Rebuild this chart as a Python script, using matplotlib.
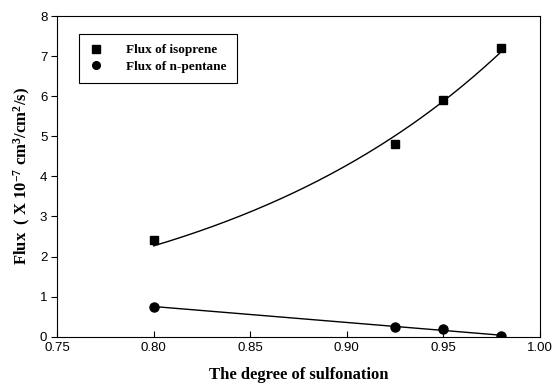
import numpy as np
import matplotlib
matplotlib.use("Agg")
import matplotlib.pyplot as plt

plt.rcParams['mathtext.fontset'] = 'custom'
plt.rcParams['mathtext.rm'] = 'Liberation Serif:bold'
plt.rcParams['mathtext.bf'] = 'Liberation Serif:bold'
plt.rcParams['mathtext.it'] = 'Liberation Serif:bold'

sulfonation = [0.80, 0.925, 0.95, 0.98]
flux_isoprene = [2.4, 4.8, 5.9, 7.2]
flux_pentane = [0.75, 0.25, 0.18, 0.02]
xticks = [0.75, 0.80, 0.85, 0.90, 0.95, 1.00]
yticks = [0, 1, 2, 3, 4, 5, 6, 7, 8]

fig = plt.figure(figsize=(5.54, 3.85), dpi=100)
ax = fig.add_axes([0.1029, 0.1255, 0.8718, 0.8329])

x = np.array(sulfonation)
yi = np.array(flux_isoprene)
xs = np.linspace(x.min(), x.max(), 200)
# nonlinear least-squares exponential fit y = a*exp(b*x) for isoprene
best = None
for b in np.linspace(1, 15, 5601):
    e = np.exp(b * x)
    a = np.sum(yi * e) / np.sum(e * e)
    r = np.sum((yi - a * e) ** 2)
    if best is None or r < best[0]:
        best = (r, a, b)
_, a_fit, b_fit = best
ax.plot(xs, a_fit * np.exp(b_fit * xs), color='black', lw=1.0)
# linear fit for pentane
m, c = np.polyfit(x, flux_pentane, 1)
ax.plot(xs, m * xs + c, color='black', lw=1.0)

ax.plot(x, flux_isoprene, 's', color='black', ms=6, label='Flux of isoprene')
ax.plot(x, flux_pentane, 'o', color='black', ms=6.5, label='Flux of n-pentane')

ax.set_xlim(0.75, 1.00)
ax.set_ylim(0, 8)
ax.set_xticks(xticks)
ax.set_xticklabels(['%.2f' % v for v in xticks])
ax.set_yticks(yticks)
ax.tick_params(axis='x', direction='in', length=4, width=0.8, labelsize=9.5, pad=4)
ax.tick_params(axis='y', direction='out', length=4, width=0.8, labelsize=9.5, pad=3)
for lab in ax.get_xticklabels() + ax.get_yticklabels():
    lab.set_fontfamily('Liberation Sans')
for s in ax.spines.values():
    s.set_linewidth(0.8)

ax.set_xlabel('The degree of sulfonation', fontfamily='Liberation Serif',
              fontweight='bold', fontsize=12, labelpad=9)
ax.set_ylabel('Flux  ( X 10$^{-7}$ cm$^{3}$/cm$^{2}$/s)',
              fontfamily='Liberation Serif',
              fontweight='bold', fontsize=12, labelpad=5)

leg = ax.legend(loc='upper left', bbox_to_anchor=(0.045, 0.945), frameon=True,
                fancybox=False, edgecolor='black', framealpha=1,
                prop={'family': 'Liberation Serif', 'weight': 'bold', 'size': 9.5},
                handlelength=1.0, handletextpad=1.8, borderpad=0.8,
                labelspacing=0.3, borderaxespad=0, markerscale=0.85)
leg.get_frame().set_linewidth(0.8)

fig.savefig('out.png', dpi=100)
